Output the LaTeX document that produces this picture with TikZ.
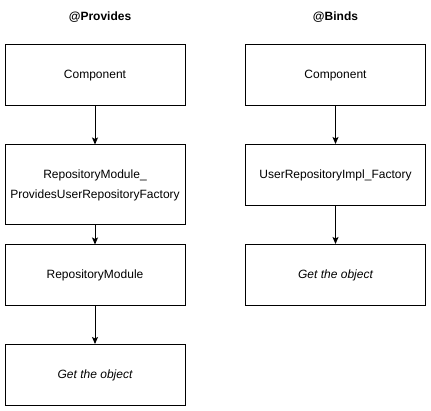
\documentclass[tikz,border=0pt]{standalone}
\usepackage{fontspec}
\setmainfont{Liberation Sans}
\usetikzlibrary{arrows.meta}

\newcommand\boxw{180pt}

\begin{document}
\begin{tikzpicture}[x=1pt,y=-1pt,
    block/.style={draw,rectangle,minimum width=\boxw,minimum height=61pt,
      inner sep=0pt,align=center,line width=1pt,
      font=\fontsize{12}{20}\selectfont},
    title/.style={font=\bfseries\fontsize{12}{14}\selectfont},
    link/.style={-{Stealth[length=7pt,width=6pt,inset=1.5pt]},line width=1pt}
  ]
    \useasboundingbox (0,0) rectangle (431,411);

    % @Provides
    \begin{scope}
      \node[title] (ptitle) at (100,17) {@Provides};
      \node[block] (pcomp) at (95,75.5) {Component};
      \node[block,minimum height=80pt] (pfact) at (95,185)
        {RepositoryModule\_\\ProvidesUserRepositoryFactory};
      \node[block] (pmod) at (95,275.5) {RepositoryModule};
      \node[block] (pobj) at (95,375) {\itshape Get the object};

      \draw[link] (pcomp) -- (pfact);
      \draw[link] (pfact) -- (pmod);
      \draw[link] (pmod) -- (pobj);
    \end{scope}

    % @Binds
    \begin{scope}
      \node[title] (btitle) at (335.5,17) {@Binds};
      \node[block] (bcomp) at (335.5,75.5) {Component};
      \node[block] (bfact) at (335.5,175) {UserRepositoryImpl\_Factory};
      \node[block] (bobj) at (335.5,275) {\itshape Get the object};

      \draw[link] (bcomp) -- (bfact);
      \draw[link] (bfact) -- (bobj);
    \end{scope}
  \end{tikzpicture}
\end{document}
